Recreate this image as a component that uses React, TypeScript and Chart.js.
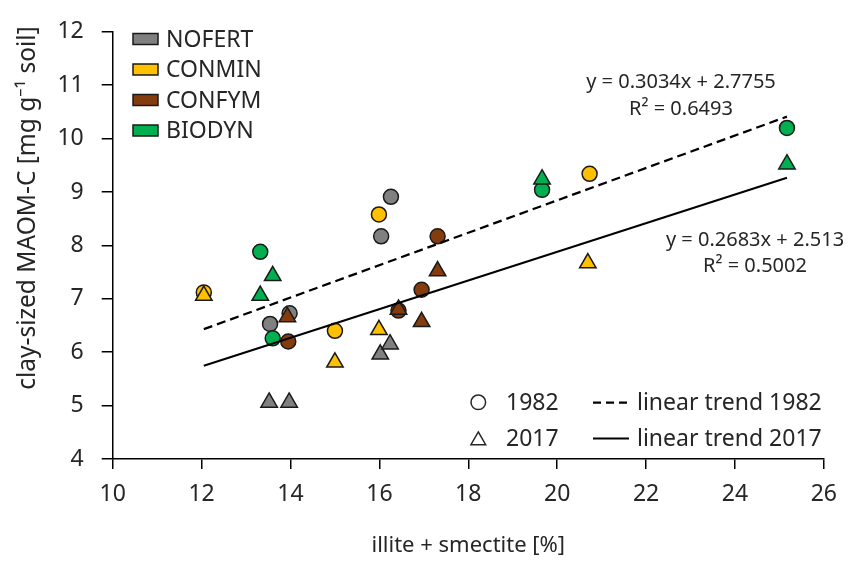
import React, { useEffect, useRef } from 'react';
import { Chart, registerables } from 'chart.js';

Chart.register(...registerables);

// ---------- data ----------
const GROUPS = ['NOFERT', 'CONMIN', 'CONFYM', 'BIODYN'];
const GROUP_COLORS = ['#808080', '#FFC000', '#843C0C', '#00B050'];

const NOFERT_1982_X = [13.54, 13.98, 16.04, 16.26];
const NOFERT_1982_Y = [6.53, 6.73, 8.17, 8.91];
const NOFERT_2017_X = [13.52, 13.97, 16.02, 16.24];
const NOFERT_2017_Y = [5.06, 5.06, 5.96, 6.15];

const CONMIN_1982_X = [12.05, 15.0, 15.99, 20.73];
const CONMIN_1982_Y = [7.12, 6.4, 8.58, 9.34];
const CONMIN_2017_X = [12.05, 15.0, 15.99, 20.69];
const CONMIN_2017_Y = [7.06, 5.81, 6.42, 7.67];

const CONFYM_1982_X = [13.95, 16.43, 16.95, 17.31];
const CONFYM_1982_Y = [6.2, 6.78, 7.17, 8.17];
const CONFYM_2017_X = [13.93, 16.43, 16.95, 17.31];
const CONFYM_2017_Y = [6.66, 6.8, 6.57, 7.52];

const BIODYN_1982_X = [13.32, 13.6, 19.66, 25.17];
const BIODYN_1982_Y = [7.88, 6.26, 9.04, 10.2];
const BIODYN_2017_X = [13.32, 13.6, 19.66, 25.17];
const BIODYN_2017_Y = [7.06, 7.43, 9.24, 9.52];

const YEARS = ['1982', '2017'];
const TREND_SLOPES = [0.3034, 0.2683];
const TREND_INTERCEPTS = [2.7755, 2.513];
const TREND_X_RANGE = [12.05, 25.17];
const TREND_EQUATIONS = ['y = 0.3034x + 2.7755', 'y = 0.2683x + 2.513'];
const TREND_R2 = ['R\u00B2 = 0.6493', 'R\u00B2 = 0.5002'];
const TREND_LEGEND = ['linear trend 1982', 'linear trend 2017'];

const X_MIN = 10, X_MAX = 26, X_STEP = 2;
const Y_MIN = 4, Y_MAX = 12, Y_STEP = 1;
const X_TITLE = 'illite + smectite [%]';
const Y_TITLE = 'clay-sized MAOM-C [mg g\u207B\u00B9 soil]';

// ---------- styling ----------
const FONT = '"Noto Sans", "Open Sans", sans-serif';
const TEXT = '#262626';
const EDGE = '#1a1a1a';

function pts(xs: number[], ys: number[]) {
  return xs.map((x, i) => ({ x, y: ys[i] }));
}

export default function App() {
  const ref = useRef<HTMLCanvasElement>(null);

  useEffect(() => {
    const canvas = ref.current!;
    const circles = [
      [NOFERT_1982_X, NOFERT_1982_Y],
      [CONMIN_1982_X, CONMIN_1982_Y],
      [CONFYM_1982_X, CONFYM_1982_Y],
      [BIODYN_1982_X, BIODYN_1982_Y],
    ];
    const triangles = [
      [NOFERT_2017_X, NOFERT_2017_Y],
      [CONMIN_2017_X, CONMIN_2017_Y],
      [CONFYM_2017_X, CONFYM_2017_Y],
      [BIODYN_2017_X, BIODYN_2017_Y],
    ];

    // drawing sequence (later = on top)
    const seq: any[] = [];
    circles.forEach((c, i) =>
      seq.push({
        label: GROUPS[i] + ' ' + YEARS[0],
        data: pts(c[0], c[1]),
        pointStyle: 'circle',
        pointRadius: 7.5,
        backgroundColor: GROUP_COLORS[i],
        borderColor: EDGE,
        borderWidth: 1.5,
      })
    );
    triangles.forEach((c, i) =>
      seq.push({
        label: GROUPS[i] + ' ' + YEARS[1],
        data: pts(c[0], c[1]),
        pointStyle: 'triangle',
        pointRadius: 9.5,
        backgroundColor: GROUP_COLORS[i],
        borderColor: EDGE,
        borderWidth: 1.5,
      })
    );
    TREND_SLOPES.forEach((m, i) =>
      seq.push({
        label: TREND_LEGEND[i],
        data: TREND_X_RANGE.map((x) => ({ x, y: m * x + TREND_INTERCEPTS[i] })),
        showLine: true,
        pointRadius: 0,
        borderColor: '#000',
        borderWidth: i === 0 ? 2.25 : 2,
        borderDash: i === 0 ? [9, 5] : [],
        backgroundColor: 'transparent',
      })
    );
    const n = seq.length;
    seq.forEach((d, i) => (d.order = n - i));

    const overlay = {
      id: 'overlay',
      afterDraw(chart: any) {
        const ctx = chart.ctx as CanvasRenderingContext2D;
        ctx.save();
        ctx.fillStyle = TEXT;
        ctx.textBaseline = 'middle';

        // group legend
        const rows = [39, 69.5, 100, 130.5];
        GROUPS.forEach((g, i) => {
          ctx.fillStyle = GROUP_COLORS[i];
          ctx.fillRect(133, rows[i] - 5.5, 25, 11);
          ctx.strokeStyle = EDGE;
          ctx.lineWidth = 1.5;
          ctx.setLineDash([]);
          ctx.strokeRect(133, rows[i] - 5.5, 25, 11);
          ctx.fillStyle = TEXT;
          ctx.font = `23px ${FONT}`;
          ctx.textAlign = 'left';
          ctx.fillText(g, 166, rows[i] + 1);
        });

        // year / trend legend
        ctx.strokeStyle = TEXT;
        ctx.lineWidth = 1.5;
        ctx.beginPath();
        ctx.arc(478.3, 402.3, 7.3, 0, Math.PI * 2);
        ctx.stroke();
        const tr = 8.5;
        const tcx = 478.3, tcy = 438.3 + tr / 4;
        ctx.beginPath();
        ctx.moveTo(tcx, tcy - tr);
        ctx.lineTo(tcx + tr * 0.866, tcy + tr / 2);
        ctx.lineTo(tcx - tr * 0.866, tcy + tr / 2);
        ctx.closePath();
        ctx.stroke();
        ctx.font = `23px ${FONT}`;
        ctx.textAlign = 'left';
        ctx.fillText(YEARS[0], 506, 403);
        ctx.fillText(YEARS[1], 506, 439);
        ctx.strokeStyle = '#000';
        ctx.lineWidth = 2.25;
        ctx.setLineDash([8, 5]);
        ctx.beginPath();
        ctx.moveTo(593, 402.5);
        ctx.lineTo(629, 402.5);
        ctx.stroke();
        ctx.setLineDash([]);
        ctx.lineWidth = 2;
        ctx.beginPath();
        ctx.moveTo(593, 438.5);
        ctx.lineTo(629, 438.5);
        ctx.stroke();
        ctx.fillText(TREND_LEGEND[0], 637, 403);
        ctx.fillText(TREND_LEGEND[1], 637, 439);

        // equations
        ctx.font = `20px ${FONT}`;
        ctx.textAlign = 'center';
        ctx.fillText(TREND_EQUATIONS[0], 681, 82);
        ctx.fillText(TREND_R2[0], 681, 109);
        ctx.fillText(TREND_EQUATIONS[1], 755, 240);
        ctx.fillText(TREND_R2[1], 755, 266);

        // axis titles
        ctx.font = `22px ${FONT}`;
        ctx.textAlign = 'center';
        ctx.fillText(X_TITLE, (chart.chartArea.left + chart.chartArea.right) / 2, 546);
        ctx.font = `24.5px ${FONT}`;
        ctx.translate(28, 208);
        ctx.rotate(-Math.PI / 2);
        ctx.fillText(Y_TITLE, 0, 0);
        ctx.restore();
      },
    };

    const chart = new Chart(canvas, {
      type: 'scatter',
      data: { datasets: seq },
      options: {
        animation: false,
        responsive: false,
        devicePixelRatio: 1,
        layout: { padding: { left: 0, top: 25.7, right: 17.3, bottom: 0 } },
        plugins: { legend: { display: false }, tooltip: { enabled: false } },
        scales: {
          x: {
            type: 'linear',
            min: X_MIN,
            max: X_MAX,
            ticks: { stepSize: X_STEP, font: { family: FONT, size: 23 }, color: TEXT, padding: 12, maxRotation: 0 },
            grid: { drawOnChartArea: false, drawTicks: true, tickLength: 10, color: '#000', lineWidth: 1.5 },
            border: { display: true, color: '#000', width: 1.5 },
            afterFit: (s: any) => { s.height = 102; },
          },
          y: {
            type: 'linear',
            min: Y_MIN,
            max: Y_MAX,
            ticks: { stepSize: Y_STEP, font: { family: FONT, size: 23 }, color: TEXT, padding: 18 },
            grid: { drawOnChartArea: false, drawTicks: true, tickLength: 11, color: '#000', lineWidth: 1.5 },
            border: { display: true, color: '#000', width: 1.5 },
            afterFit: (s: any) => { s.width = 112.7; },
          },
        },
      },
      plugins: [overlay],
    });
    return () => chart.destroy();
  }, []);

  return (
    <div style={{ position: 'fixed', left: 0, top: 0, width: 849, height: 561, background: '#fff' }}>
      <canvas ref={ref} width={849} height={561} style={{ display: 'block', width: 849, height: 561 }} />
    </div>
  );
}
